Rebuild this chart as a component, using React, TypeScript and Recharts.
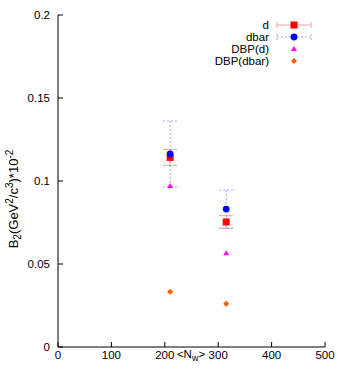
import React from 'react';
import { ScatterChart, Scatter, XAxis, YAxis, ErrorBar, Legend } from 'recharts';

const nw = [210, 315];
const dVals = [0.1142, 0.0753];
const dErr = [0.0048, 0.0038];
const dbarVals = [0.1163, 0.0831];
const dbarErr = [0.0198, 0.0115];
const dbpD = [0.097, 0.0565];
const dbpDbar = [0.0333, 0.0261];
const xTicks = [0, 100, 200, 300, 400, 500];
const yTicks = [0, 0.05, 0.1, 0.15, 0.2];
const yTickLabels = ['0', '0.05', '0.1', '0.15', '0.2'];
const seriesNames = ['d', 'dbar', 'DBP(d)', 'DBP(dbar)'];

const FONT = '"Liberation Sans", Arial, Helvetica, sans-serif';
const FS = 11.5;
const RED = '#ff0000';
const RED_ERR = '#f4a0a0';
const BLUE = '#0000ff';
const BLUE_ERR = '#a0a0ff';
const MAGENTA = '#ff00ff';
const ORANGE = '#ff5a00';

const dData = nw.map((x, i) => ({ x, y: dVals[i], e: dErr[i] }));
const dbarData = nw.map((x, i) => ({ x, y: dbarVals[i], e: dbarErr[i] }));
const dbpDData = nw.map((x, i) => ({ x, y: dbpD[i] }));
const dbpDbarData = nw.map((x, i) => ({ x, y: dbpDbar[i] }));

const Square = (p: any) => <rect x={p.cx - 3.5} y={p.cy - 3.5} width={7} height={7} fill={RED} />;
const Circle = (p: any) => <circle cx={p.cx} cy={p.cy} r={3.4} fill={BLUE} />;
const Tri = (p: any) => (
  <polygon points={`${p.cx - 3},${p.cy + 2} ${p.cx + 3},${p.cy + 2} ${p.cx},${p.cy - 3}`} fill={MAGENTA} />
);
const Diamond = (p: any) => (
  <polygon points={`${p.cx - 3},${p.cy} ${p.cx},${p.cy - 3} ${p.cx + 3},${p.cy} ${p.cx},${p.cy + 3}`} fill={ORANGE} />
);

const BottomTick = (p: any) => (
  <g>
    <line x1={p.x} y1={p.y} x2={p.x} y2={p.y - 5} stroke="#000" />
    <text x={p.x} y={p.y + 12} textAnchor="middle" fontSize={FS} fontFamily={FONT} fill="#000">
      {p.payload.value}
    </text>
  </g>
);
const LeftTick = (p: any) => {
  const idx = yTicks.indexOf(p.payload.value);
  return (
    <g>
      <line x1={p.x} y1={p.y} x2={p.x + 5} y2={p.y} stroke="#000" />
      <text x={p.x - 8} y={p.y + 4} textAnchor="end" fontSize={FS} fontFamily={FONT} fill="#000">
        {idx >= 0 ? yTickLabels[idx] : p.payload.value}
      </text>
    </g>
  );
};
const TopTick = (p: any) => <line x1={p.x} y1={p.y} x2={p.x} y2={p.y + 5} stroke="#000" />;
const RightTick = (p: any) => <line x1={p.x} y1={p.y} x2={p.x - 5} y2={p.y} stroke="#000" />;

const YTitle = () => {
  const cx = 18;
  const cy = 199;
  return (
    <text
      x={cx}
      y={cy}
      transform={`rotate(-90 ${cx} ${cy})`}
      textAnchor="middle"
      fontSize={13}
      fontFamily={FONT}
      fill="#000"
    >
      B<tspan dy={3} fontSize={10}>2</tspan>
      <tspan dy={-3}>(GeV</tspan>
      <tspan dy={-5} fontSize={10}>2</tspan>
      <tspan dy={5}>/c</tspan>
      <tspan dy={-5} fontSize={10}>3</tspan>
      <tspan dy={5}>)*10</tspan>
      <tspan dy={-5} fontSize={10}>-2</tspan>
    </text>
  );
};

const XTitle = () => (
  <text x={191} y={358} textAnchor="middle" fontSize={FS} fontFamily={FONT} fill="#000">
    {'<N'}
    <tspan dy={3} fontSize={9}>w</tspan>
    <tspan dy={-3}>{'>'}</tspan>
  </text>
);

const LegendContent = () => {
  const rows = [7, 19, 31, 43];
  const tx = 69;
  const l1 = 77;
  const l2 = 111;
  const mid = 94;
  return (
    <svg width={146} height={56} style={{ display: 'block' }}>
      {seriesNames.map((n, i) => (
        <text key={n} x={tx} y={rows[i] + 4} textAnchor="end" fontSize={FS} fontFamily={FONT} fill="#000">
          {n}
        </text>
      ))}
      <g stroke={RED_ERR}>
        <line x1={l1} y1={rows[0]} x2={l2} y2={rows[0]} />
        <line x1={l1} y1={rows[0] - 3} x2={l1} y2={rows[0] + 3} />
        <line x1={l2} y1={rows[0] - 3} x2={l2} y2={rows[0] + 3} />
      </g>
      <Square cx={mid} cy={rows[0]} />
      <g stroke={BLUE_ERR} strokeDasharray="2 2">
        <line x1={l1} y1={rows[1]} x2={l2} y2={rows[1]} />
        <line x1={l1} y1={rows[1] - 3} x2={l1} y2={rows[1] + 3} />
        <line x1={l2} y1={rows[1] - 3} x2={l2} y2={rows[1] + 3} />
      </g>
      <Circle cx={mid} cy={rows[1]} />
      <Tri cx={mid} cy={rows[2]} />
      <Diamond cx={mid} cy={rows[3]} />
    </svg>
  );
};

export default function App() {
  return (
    <div style={{ position: 'absolute', left: 0, top: 0, width: 346, height: 371, background: '#fff' }}>
      <ScatterChart width={346} height={371} margin={{ top: 15, right: 21, bottom: 0, left: 8 }}>
        <XAxis
          type="number"
          dataKey="x"
          domain={[0, 500]}
          ticks={xTicks}
          tickSize={0}
          tickMargin={0}
          height={24}
          axisLine={{ stroke: '#000' }}
          tickLine={false}
          tick={<BottomTick />}
          interval={0}
          label={<XTitle />}
        />
        <XAxis
          xAxisId="top"
          orientation="top"
          type="number"
          domain={[0, 500]}
          ticks={xTicks}
          tickSize={0}
          tickMargin={0}
          height={0}
          axisLine={{ stroke: '#000' }}
          tickLine={false}
          tick={<TopTick />}
          interval={0}
        />
        <YAxis
          type="number"
          dataKey="y"
          domain={[0, 0.2]}
          ticks={yTicks}
          tickSize={0}
          tickMargin={0}
          width={50}
          axisLine={{ stroke: '#000' }}
          tickLine={false}
          tick={<LeftTick />}
          interval={0}
          label={<YTitle />}
        />
        <YAxis
          yAxisId="right"
          orientation="right"
          type="number"
          domain={[0, 0.2]}
          ticks={yTicks}
          tickSize={0}
          tickMargin={0}
          width={0}
          axisLine={{ stroke: '#000' }}
          tickLine={false}
          tick={<RightTick />}
          interval={0}
        />
        <Legend
          layout="vertical"
          align="center"
          verticalAlign="middle"
          wrapperStyle={{ left: 200, top: 18, width: 146 }}
          content={<LegendContent />}
        />
        <Scatter name={seriesNames[0]} data={dData} shape={Square} isAnimationActive={false}>
          <ErrorBar dataKey="e" direction="y" width={7} stroke={RED_ERR} strokeWidth={1} />
        </Scatter>
        <Scatter name={seriesNames[1]} data={dbarData} shape={Circle} isAnimationActive={false}>
          <ErrorBar dataKey="e" direction="y" width={7} stroke={BLUE_ERR} strokeWidth={1} strokeDasharray="2 2" />
        </Scatter>
        <Scatter name={seriesNames[2]} data={dbpDData} shape={Tri} isAnimationActive={false} />
        <Scatter name={seriesNames[3]} data={dbpDbarData} shape={Diamond} isAnimationActive={false} />
      </ScatterChart>
    </div>
  );
}
